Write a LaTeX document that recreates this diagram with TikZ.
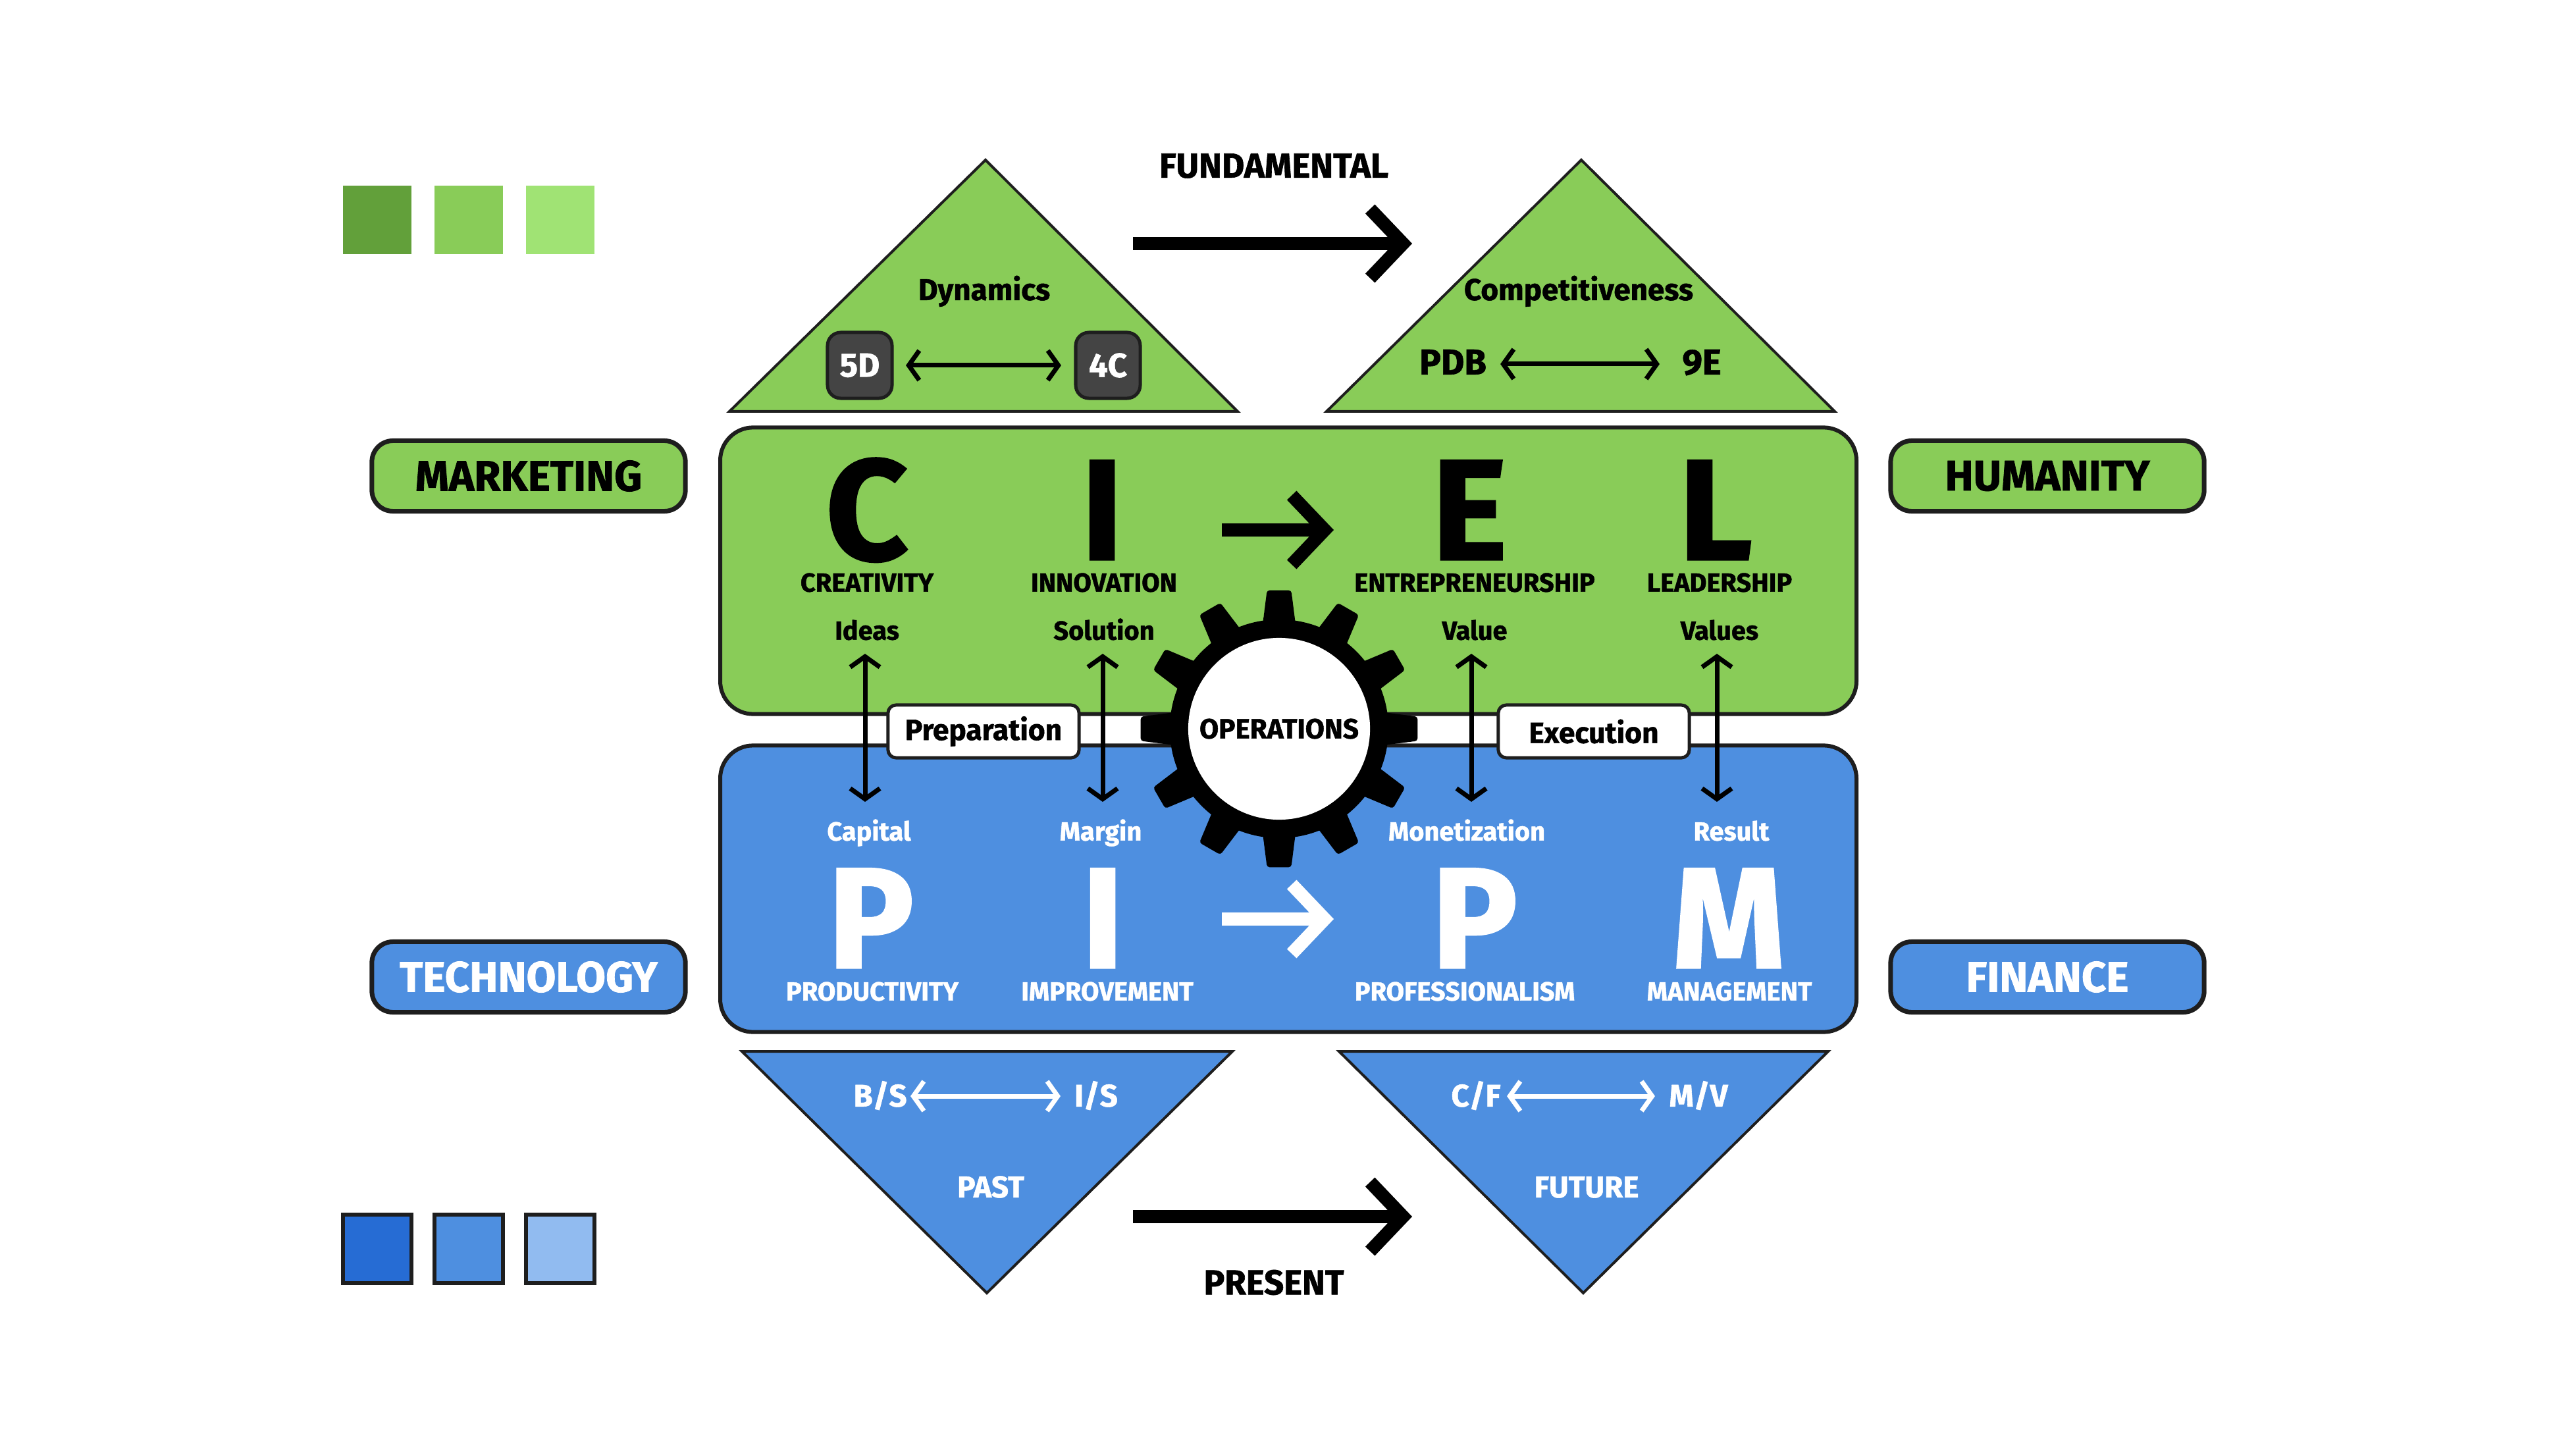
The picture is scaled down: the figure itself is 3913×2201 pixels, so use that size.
\documentclass[tikz,border=0pt]{standalone}
\usepackage{fontspec}
\setmainfont{Fira Sans}[BoldFeatures={FakeBold=1.2}]
\usetikzlibrary{arrows.meta,positioning}

\definecolor{leaf}{HTML}{89CC58}
\definecolor{leafdark}{HTML}{62A03A}
\definecolor{leaflight}{HTML}{A0E374}
\definecolor{sea}{HTML}{4E8FE0}
\definecolor{seadark}{HTML}{266CD4}
\definecolor{sealight}{HTML}{91BBF0}
\definecolor{chipgray}{HTML}{444444}
\definecolor{edge}{HTML}{1E1E1E}

\newcommand\fsz[1]{\fontsize{#1}{#1}\selectfont}

\tikzset{
  box/.style={draw=edge, line width=0.06cm, rounded corners=0.5cm, minimum width=17.25cm, minimum height=4.35cm},
  side/.style={draw=edge, line width=0.07cm, rounded corners=0.32cm, minimum width=4.76cm, minimum height=1.07cm, inner sep=0pt, font=\bfseries\fsz{18.5}},
  tag/.style={draw=edge, line width=0.05cm, fill=white, rounded corners=0.12cm, minimum width=2.9cm, minimum height=0.8cm, inner sep=0pt, font=\bfseries\fsz{12.6}},
  chip/.style={draw=edge, line width=0.05cm, fill=chipgray, rounded corners=0.2cm, minimum width=0.98cm, minimum height=1cm, inner sep=0pt, text=white, font=\bfseries\fsz{14.5}},
  swatch/.style={minimum size=1.04cm, inner sep=0pt, outer sep=0pt},
  tri/.style={draw=edge, line width=0.04cm, line join=miter},
  big/.style={inner sep=0pt, text height=40pt, text depth=0pt, font=\bfseries\fsz{62}},
  head/.style={inner sep=0pt, font=\bfseries\fsz{15}},
  mid/.style={inner sep=0pt, text height=9pt, text depth=0pt, font=\bfseries\fsz{13}},
  word/.style={inner sep=0pt, text height=7.8pt, text depth=0pt, font=\bfseries\fsz{11.3}},
  dbl/.style={line width=0.07cm, {Straight Barb[length=1.6mm,width=4.5mm]}-{Straight Barb[length=1.6mm,width=4.5mm]}},
  heavy/.style={line width=0.2cm, -{Straight Barb[length=5mm,width=10.5mm]}},
}

\begin{document}
\begin{tikzpicture}[x=0.01cm, y=-0.01cm]
\useasboundingbox (0,0) rectangle (3913,2201);

% colour swatches
\node[swatch, fill=leafdark] (g1) at (573,334) {};
\node[swatch, fill=leaf, right=0.35cm of g1] (g2) {};
\node[swatch, fill=leaflight, right=0.35cm of g2] (g3) {};
\node[swatch, draw=edge, line width=0.06cm, fill=seadark] (b1) at (573,1897) {};
\node[swatch, draw=edge, line width=0.06cm, fill=sea, right=0.35cm of b1] (b2) {};
\node[swatch, draw=edge, line width=0.06cm, fill=sealight, right=0.35cm of b2] (b3) {};

% triangles
\draw[tri, fill=leaf] (1108,625) -- (1497,243) -- (1880,625) -- cycle;
\draw[tri, fill=leaf] (2015,625) -- (2402,243) -- (2787,625) -- cycle;
\draw[tri, fill=sea] (1127,1597) -- (1872,1597) -- (1499,1964) -- cycle;
\draw[tri, fill=sea] (2034,1597) -- (2777,1597) -- (2405,1964) -- cycle;

% side labels
\node[side, fill=leaf] (mkt) at (803,723) {MARKETING};
\node[side, fill=leaf] (hum) at (3110,723) {HUMANITY};
\node[side, fill=sea, text=white] (tech) at (803,1484) {TECHNOLOGY};
\node[side, fill=sea, text=white] (fin) at (3110,1484) {FINANCE};

% main boxes
\node[box, fill=leaf] (ciel) at (1957,867) {};
\node[box, fill=sea] (pipm) at (1957,1350) {};
\node[tag] (prep) at (1494,1111) {Preparation};
\node[tag] (exec) at (2421,1111) {Execution};

% time axis
\node[head] (fund) at (1935,252) {FUNDAMENTAL};
\node[head] (pres) at (1935,1948) {PRESENT};
\coordinate (fundA) at (1721,370);
\coordinate (fundB) at (2145,370);
\coordinate (presA) at (1721,1848);
\coordinate (presB) at (2145,1848);
\draw[heavy] (fundA) -- (fundB);
\draw[heavy] (presA) -- (presB);

% upper triangles
\node[mid] (dyn) at (1495,440) {Dynamics};
\node[chip] (d5) at (1306,555) {5D};
\node[chip] (c4) at (1683,555) {4C};
\draw[dbl, shorten <=0.7cm, shorten >=0.71cm] (d5.center) -- (c4.center);
\node[mid] (comp) at (2398,440) {Competitiveness};
\node[mid, font=\bfseries\fsz{15.5}] (pdb) at (2207,553) {PDB};
\node[mid, font=\bfseries\fsz{15.5}] (nine) at (2585,553) {9E};
\draw[dbl, shorten <=0.72cm, shorten >=0.64cm] (pdb.center) -- (nine.center);

% CIEL
\node[big] (lC) at (1317,780) {C};
\node[big] (lI) at (1674,780) {I};
\node[big] (lE) at (2232,780) {E};
\node[big] (lL) at (2606,780) {L};
\coordinate (cielA) at (1856,805);
\coordinate (cielB) at (2026,805);
\draw[heavy] (cielA) -- (cielB);
\node[word] (cre) at (1317,885) {CREATIVITY};
\node[word] (inn) at (1677,885) {INNOVATION};
\node[word] (ent) at (2240,885) {ENTREPRENEURSHIP};
\node[word] (lea) at (2612,885) {LEADERSHIP};
\node[word] (ide) at (1317,958) {Ideas};
\node[word] (sol) at (1677,958) {Solution};
\node[word] (val) at (2240,958) {Value};
\node[word] (vls) at (2612,958) {Values};

% PIPM
\node[word, text=white] (cap) at (1320,1263) {Capital};
\node[word, text=white] (mar) at (1672,1263) {Margin};
\node[word, text=white] (mon) at (2228,1263) {Monetization};
\node[word, text=white] (res) at (2630,1263) {Result};
\node[big, text=white] (lP) at (1323,1400) {P};
\node[big, text=white] (lI2) at (1675,1400) {I};
\node[big, text=white] (lP2) at (2240,1400) {P};
\node[big, text=white] (lM) at (2626,1400) {M};
\coordinate (pipmA) at (1856,1396);
\coordinate (pipmB) at (2026,1396);
\draw[heavy, white] (pipmA) -- (pipmB);
\node[word, text=white] (pro) at (1325,1506) {PRODUCTIVITY};
\node[word, text=white] (imp) at (1682,1506) {IMPROVEMENT};
\node[word, text=white] (prf) at (2225,1506) {PROFESSIONALISM};
\node[word, text=white] (man) at (2627,1506) {MANAGEMENT};

% links between the rows
\draw[dbl, shorten <=0.35cm, shorten >=0.45cm] ([xshift=-0.03cm]ide.center) -- ([xshift=-0.03cm]ide.center |- cap.center);
\draw[dbl, shorten <=0.35cm, shorten >=0.45cm] ([xshift=-0.02cm]sol.center) -- ([xshift=-0.02cm]sol.center |- mar.center);
\draw[dbl, shorten <=0.35cm, shorten >=0.45cm] ([xshift=-0.05cm]val.center) -- ([xshift=-0.05cm]val.center |- mon.center);
\draw[dbl, shorten <=0.35cm, shorten >=0.45cm] ([xshift=-0.04cm]vls.center) -- ([xshift=-0.04cm]vls.center |- res.center);

% lower triangles
\node[mid, text=white, font=\bfseries\fsz{13.5}] (bs) at (1337,1665) {B/S};
\node[mid, text=white, font=\bfseries\fsz{13.5}] (is) at (1665,1665) {I/S};
\draw[dbl, white, shorten <=0.46cm, shorten >=0.54cm] (bs.center) -- (is.center);
\node[mid, text=white, font=\bfseries\fsz{13.5}] (cf) at (2242,1665) {C/F};
\node[mid, text=white, font=\bfseries\fsz{13.5}] (mv) at (2580,1665) {M/V};
\draw[dbl, white, shorten <=0.47cm, shorten >=0.66cm] (cf.center) -- (mv.center);
\node[mid, text=white] (past) at (1505,1803) {PAST};
\node[mid, text=white] (fut) at (2410,1803) {FUTURE};

% gear
\begin{scope}[shift={(1943,1107)}]
\fill[black] (0,0) circle[radius=1.66cm];
\foreach \a in {0,30,...,330}
  \fill[black, rounded corners=0.04cm] (\a-9:1.6cm) -- (\a-5:2.11cm) -- (\a+5:2.11cm) -- (\a+9:1.6cm) -- cycle;
\end{scope}
\node[circle, fill=white, minimum size=2.76cm, inner sep=0pt, font=\bfseries\fsz{12}] (ops) at (1943,1107) {OPERATIONS};

\end{tikzpicture}
\end{document}
